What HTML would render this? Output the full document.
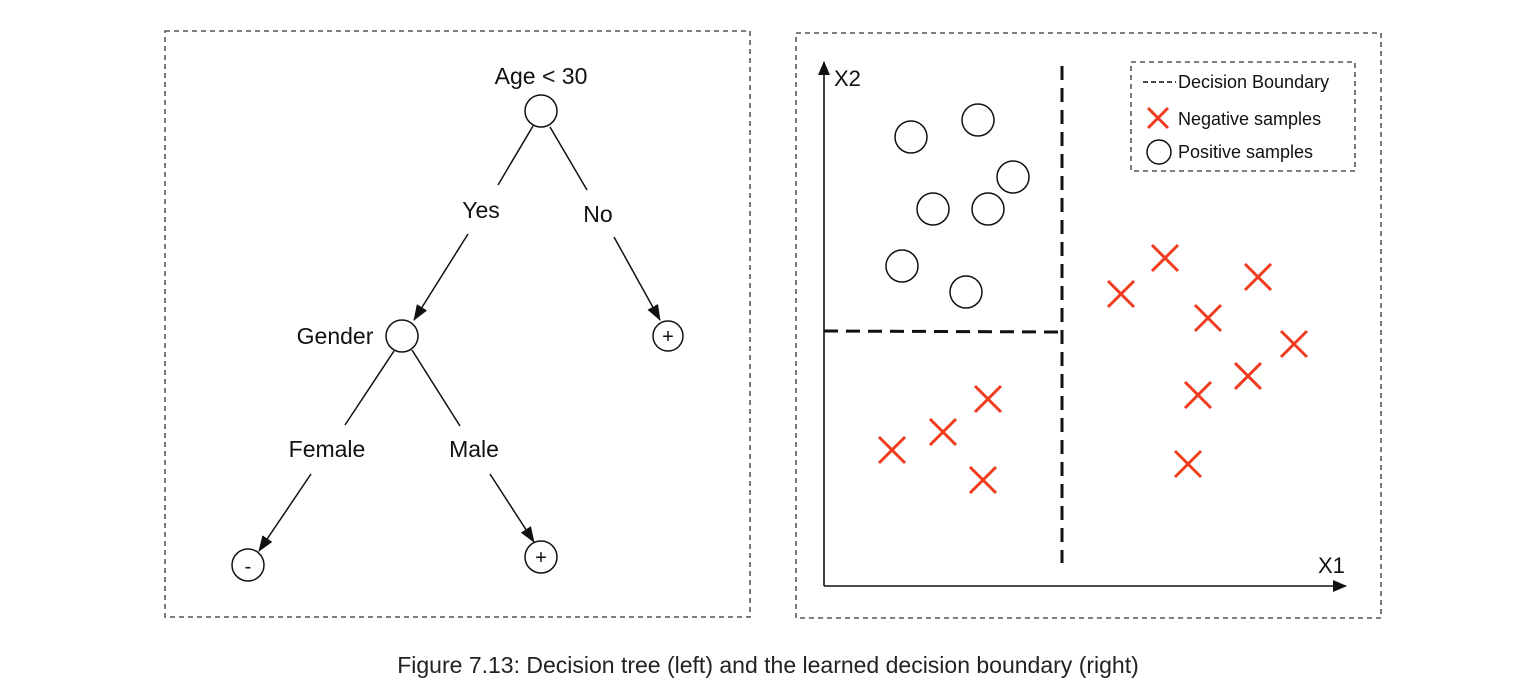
<!DOCTYPE html>
<html><head><meta charset="utf-8"><style>
html,body{margin:0;padding:0;background:#fff;}
svg{display:block;}
text{font-family:"Liberation Sans",Arial,sans-serif;fill:#111;}
</style></head><body>
<svg width="1536" height="688" viewBox="0 0 1536 688" xmlns="http://www.w3.org/2000/svg">
<defs>
<marker id="ah" markerWidth="16" markerHeight="14" refX="15" refY="7" orient="auto" markerUnits="userSpaceOnUse">
<path d="M0,1 L16,7 L0,13 z" fill="#111"/></marker>
<marker id="ah2" markerWidth="14" markerHeight="14" refX="13" refY="7" orient="auto" markerUnits="userSpaceOnUse">
<path d="M0,1 L14,7 L0,13 z" fill="#111"/></marker>
</defs>
<rect x="165" y="31" width="585" height="586" fill="none" stroke="#333" stroke-width="1.3" stroke-dasharray="5,4"/>
<rect x="796" y="33" width="585" height="585" fill="none" stroke="#333" stroke-width="1.3" stroke-dasharray="5,4"/>
<g stroke="#111" stroke-width="1.5" fill="none">
<circle cx="541" cy="111" r="16"/>
<circle cx="402" cy="336" r="16"/>
<circle cx="668" cy="336" r="15"/>
<circle cx="248" cy="565" r="16"/>
<circle cx="541" cy="557" r="16"/>
<line x1="533" y1="126" x2="498" y2="185"/>
<line x1="550" y1="127" x2="587" y2="190"/>
<line x1="468" y1="234" x2="414" y2="320" marker-end="url(#ah)"/>
<line x1="614" y1="237" x2="660" y2="320" marker-end="url(#ah)"/>
<line x1="394" y1="351" x2="345" y2="425"/>
<line x1="412" y1="350" x2="460" y2="426"/>
<line x1="311" y1="474" x2="259" y2="551" marker-end="url(#ah)"/>
<line x1="490" y1="474" x2="534" y2="542" marker-end="url(#ah)"/>
</g>
<g font-size="23" text-anchor="middle">
<text x="541" y="84">Age &lt; 30</text>
<text x="481" y="218">Yes</text>
<text x="598" y="222">No</text>
<text x="335" y="344">Gender</text>
<text x="327" y="457">Female</text>
<text x="474" y="457">Male</text>
</g>
<g font-size="20" text-anchor="middle">
<text x="668" y="343">+</text>
<text x="541" y="564">+</text>
<text x="248" y="573">-</text>
</g>
<line x1="824" y1="586" x2="1346" y2="586" stroke="#111" stroke-width="1.6" marker-end="url(#ah2)"/>
<line x1="824" y1="586" x2="824" y2="62" stroke="#111" stroke-width="1.6" marker-end="url(#ah2)"/>
<text x="834" y="86" font-size="22">X2</text>
<text x="1318" y="573" font-size="22">X1</text>
<line x1="1062" y1="66" x2="1062" y2="563" stroke="#111" stroke-width="3" stroke-dasharray="14,8"/>
<line x1="824" y1="331" x2="1058" y2="332" stroke="#111" stroke-width="3" stroke-dasharray="14,8"/>
<rect x="1131" y="62" width="224" height="109" fill="none" stroke="#333" stroke-width="1.3" stroke-dasharray="5,4"/>
<line x1="1143" y1="82" x2="1176" y2="82" stroke="#111" stroke-width="1.5" stroke-dasharray="5,3"/>
<g font-size="18"><text x="1178" y="88">Decision Boundary</text>
<text x="1178" y="125">Negative samples</text>
<text x="1178" y="158">Positive samples</text></g>
<g stroke="#111" stroke-width="1.5" fill="none">
<circle cx="1159" cy="152" r="12"/>
<circle cx="911" cy="137" r="16"/><circle cx="978" cy="120" r="16"/><circle cx="1013" cy="177" r="16"/>
<circle cx="933" cy="209" r="16"/><circle cx="988" cy="209" r="16"/><circle cx="902" cy="266" r="16"/><circle cx="966" cy="292" r="16"/>
</g>
<g stroke="#f03c1e" stroke-width="3" fill="none">
<path d="M1148,108 l20,20 M1168,108 l-20,20"/>
<path d="M1108,281 l26,26 M1134,281 l-26,26"/>
<path d="M1152,245 l26,26 M1178,245 l-26,26"/>
<path d="M1245,264 l26,26 M1271,264 l-26,26"/>
<path d="M1195,305 l26,26 M1221,305 l-26,26"/>
<path d="M1281,331 l26,26 M1307,331 l-26,26"/>
<path d="M1235,363 l26,26 M1261,363 l-26,26"/>
<path d="M1185,382 l26,26 M1211,382 l-26,26"/>
<path d="M1175,451 l26,26 M1201,451 l-26,26"/>
<path d="M975,386 l26,26 M1001,386 l-26,26"/>
<path d="M930,419 l26,26 M956,419 l-26,26"/>
<path d="M879,437 l26,26 M905,437 l-26,26"/>
<path d="M970,467 l26,26 M996,467 l-26,26"/>
</g>
<text x="768" y="673" font-size="23" text-anchor="middle" style="fill:#222">Figure 7.13: Decision tree (left) and the learned decision boundary (right)</text>
</svg>
</body></html>
